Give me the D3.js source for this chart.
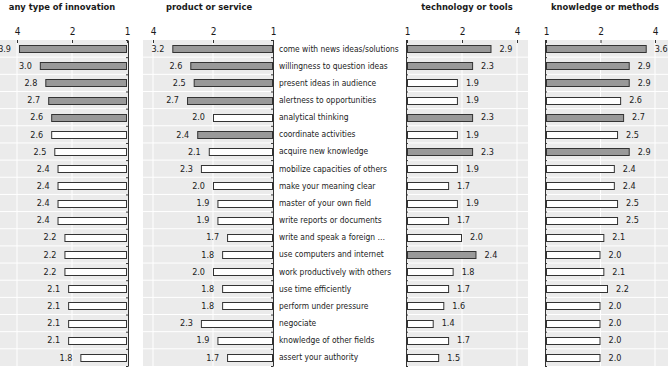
<!DOCTYPE html>
<html lang="en">
<head>
    <meta charset="UTF-8">
    <title>Skills by innovation type</title>
    <script src="https://cdn.jsdelivr.net/npm/d3@7/dist/d3.min.js"></script>
    <style>
        body{ margin:0; background:#fff; }
        text{ font-family: "Liberation Sans Narrow", "DejaVu Sans Condensed", "Roboto", sans-serif; fill:#1a1a1a; }
        .title{ font-size:9.3px; font-weight:bold; }
        .tick text{ font-size:10px; }
        .val{ font-size:9px; }
        .cat{ font-size:8.4px; }
        .bar{ stroke:#333; stroke-width:1px; }
    </style>
</head>
<body>
<svg id="main" width="668" height="367"></svg>
<script>
    // categories (rows, top to bottom)
    let categories = [
        'come with news ideas/solutions', 'willingness to question ideas', 'present ideas in audience',
        'alertness to opportunities', 'analytical thinking', 'coordinate activities',
        'acquire new knowledge', 'mobilize capacities of others', 'make your meaning clear',
        'master of your own field', 'write reports or documents', 'write and speak a foreign \u2026',
        'use computers and internet', 'work productively with others', 'use time efficiently',
        'perform under pressure', 'negociate', 'knowledge of other fields', 'assert your authority'
    ];
    // series values
    let anyType    = [3.9, 3.0, 2.8, 2.7, 2.6, 2.6, 2.5, 2.4, 2.4, 2.4, 2.4, 2.2, 2.2, 2.2, 2.1, 2.1, 2.1, 2.1, 1.8];
    let product    = [3.2, 2.6, 2.5, 2.7, 2.0, 2.4, 2.1, 2.3, 2.0, 1.9, 1.9, 1.7, 1.8, 2.0, 1.8, 1.8, 2.3, 1.9, 1.7];
    let technology = [2.9, 2.3, 1.9, 1.9, 2.3, 1.9, 2.3, 1.9, 1.7, 1.9, 1.7, 2.0, 2.4, 1.8, 1.7, 1.6, 1.4, 1.7, 1.5];
    let knowledge  = [3.6, 2.9, 2.9, 2.6, 2.7, 2.5, 2.9, 2.4, 2.4, 2.5, 2.5, 2.1, 2.0, 2.1, 2.2, 2.0, 2.0, 2.0, 2.0];
    // highlighted (grey) bars, 1 = highlighted
    let anyTypeHi    = [1,1,1,1,1,0,0,0,0,0,0,0,0,0,0,0,0,0,0];
    let productHi    = [1,1,1,1,0,1,0,0,0,0,0,0,0,0,0,0,0,0,0];
    let technologyHi = [1,1,0,0,1,0,1,0,0,0,0,0,1,0,0,0,0,0,0];
    let knowledgeHi  = [1,1,1,0,1,0,1,0,0,0,0,0,0,0,0,0,0,0,0];
    // tick labels
    let tickValues = [4, 2, 1];

    let svg = d3.select('svg#main');
    let yTop = 40, yBottom = 366;

    let yBand = d3.scaleBand().domain(categories).range([yTop, yBottom]);
    let yEdge = d3.scaleLinear().domain([0, categories.length]).range([yTop, yBottom]);

    // panel layout: plot box, scale range, direction
    let panels = [
        {title:'any type of innovation', values:anyType, hi:anyTypeHi, box:[0, 128], rng:[17, 127], rev:true, titleX:62},
        {title:'product or service', values:product, hi:productHi, box:[143, 273], rng:[153, 273], rev:true, titleX:209},
        {title:'technology or tools', values:technology, hi:technologyHi, box:[406, 528], rng:[407, 517], rev:false, titleX:467},
        {title:'knowledge or methods', values:knowledge, hi:knowledgeHi, box:[545, 668], rng:[546, 655], rev:false, titleX:605}
    ];

    panels.forEach(function(p){
        let x = d3.scaleLog().domain(p.rev ? [4, 1] : [1, 4]).range(p.rng);
        let g = svg.append('g');

        // background and grid
        g.append('rect').attr('x', p.box[0]).attr('y', yTop)
            .attr('width', p.box[1] - p.box[0]).attr('height', yBottom - yTop)
            .attr('fill', '#ebebeb');
        g.selectAll('line.row').data(d3.range(1, categories.length)).join('line')
            .attr('x1', p.box[0]).attr('x2', p.box[1])
            .attr('y1', function(d){return yEdge(d)}).attr('y2', function(d){return yEdge(d)})
            .attr('stroke', '#fff').attr('stroke-width', 1);
        g.selectAll('line.grid').data([2, 4]).join('line')
            .attr('x1', function(d){return x(d)}).attr('x2', function(d){return x(d)})
            .attr('y1', yTop).attr('y2', yBottom)
            .attr('stroke', '#fff').attr('stroke-width', 1);

        // bars
        let bh = 7;
        g.selectAll('rect.bar').data(p.values).join('rect')
            .attr('class', 'bar')
            .attr('x', function(d){return Math.min(x(d), x(1)) + 0.5})
            .attr('y', function(d, i){return Math.round(yBand(categories[i]) + yBand.bandwidth()/2 - bh/2) + 0.5})
            .attr('width', function(d){return Math.abs(x(d) - x(1)) - 1})
            .attr('height', bh)
            .attr('fill', function(d, i){return p.hi[i] ? '#999' : '#fff'});

        // value labels
        g.selectAll('text.val').data(p.values).join('text')
            .attr('class', 'val')
            .attr('x', function(d){return p.rev ? x(d) - 8 : x(d) + 8})
            .attr('y', function(d, i){return yBand(categories[i]) + yBand.bandwidth()/2})
            .attr('dy', '0.35em')
            .attr('text-anchor', p.rev ? 'end' : 'start')
            .text(function(d){return d3.format('.1f')(d)});

        // top axis
        let xAxis = g.append('g')
            .attr('transform', 'translate(0,' + yTop + ')')
            .call(d3.axisTop(x).tickValues(tickValues).tickFormat(d3.format('d'))
                .tickSize(-3).tickPadding(5));
        xAxis.select('.domain').remove();
        xAxis.selectAll('.tick line').attr('stroke', '#333');

        // category axis line with ticks at row edges
        let axisX = p.rev ? p.box[1] : p.box[0];
        let yAxis = g.append('g')
            .attr('transform', 'translate(' + axisX + ',0)')
            .call((p.rev ? d3.axisLeft(yEdge) : d3.axisRight(yEdge))
                .tickValues(d3.range(0, categories.length + 1)).tickFormat('')
                .tickSize(2).tickSizeOuter(0));
        yAxis.selectAll('path, line').attr('stroke', '#333');

        // title
        svg.append('text').attr('class', 'title')
            .attr('x', p.titleX).attr('y', 10)
            .attr('text-anchor', 'middle')
            .text(p.title);
    });

    // category labels
    svg.append('g').selectAll('text').data(categories).join('text')
        .attr('class', 'cat')
        .attr('x', 279)
        .attr('y', function(d){return yBand(d) + yBand.bandwidth()/2})
        .attr('dy', '0.35em')
        .text(function(d){return d});
</script>
</body>
</html>
